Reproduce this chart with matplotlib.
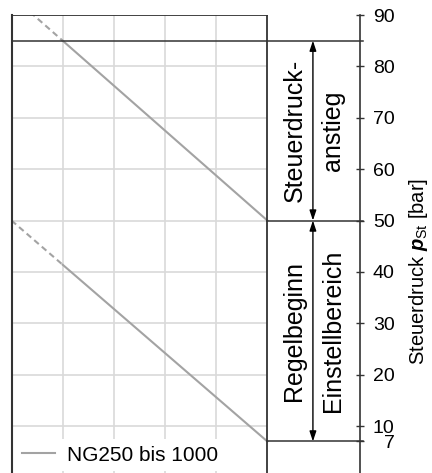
import matplotlib.pyplot as plt

plt.rcParams['font.family'] = ['Liberation Sans', 'DejaVu Sans']
plt.rcParams['mathtext.fontset'] = 'custom'
plt.rcParams['mathtext.rm'] = 'Liberation Sans'
plt.rcParams['mathtext.bf'] = 'Liberation Sans:bold:italic'

# Kennlinien (x ohne Beschriftung, y = Steuerdruck in bar)
x_dashed = [0, 1]
x_solid = [1, 5]
upper_dashed = [93.75, 85]
upper_solid = [85, 50]
lower_dashed = [50, 41.4]
lower_solid = [41.4, 7]

pressure_ticks = [7, 10, 20, 30, 40, 50, 60, 70, 80, 90]
grid_x = [1, 2, 3, 4]
grid_y = [10, 20, 30, 40, 50, 60, 70, 80]
box_right = 5
x_max = 6.81
p_top = 90
p_bottom = 0.86

# Bereiche: (Text links, Text rechts, obere Grenze, untere Grenze)
sections = [
    ("Steuerdruck-", "anstieg", 85, 50),
    ("Regelbeginn", "Einstellbereich", 50, 7),
]
label = "NG250 bis 1000"

line_col = '#a3a3a3'
grid_col = '#d9d9d9'
dark = '#333333'

fig = plt.figure(figsize=(4.32, 4.73), dpi=100)
ax = fig.add_axes([11.5 / 432, 0, (360 - 11.5) / 432, 1 - 15 / 473])
ax.set_xlim(0, x_max)
ax.set_ylim(p_bottom, p_top)

# Gitter im Diagrammkasten
ax.vlines(grid_x, p_bottom, p_top, color=grid_col, lw=1.2, zorder=1)
ax.hlines(grid_y, 0, box_right, color=grid_col, lw=1.2, zorder=1)

# Kasten: oben und rechts
ax.plot([0, box_right], [p_top, p_top], color=dark, lw=1.3, zorder=3)
ax.axvline(box_right, color=dark, lw=1.3, zorder=3)

# Grenzlinien
ax.plot([0, 6.87], [sections[0][2], sections[0][2]], color=dark, lw=1.1, clip_on=False, zorder=3)
for s in sections:
    ax.plot([box_right, 6.87], [s[3], s[3]], color=dark, lw=1.1, clip_on=False, zorder=3)

# Kennlinien
dash = (0, (2.9, 1.9))
ax.plot(x_dashed, upper_dashed, color=line_col, lw=1.5, ls=dash, zorder=2)
ax.plot(x_solid, upper_solid, color=line_col, lw=1.5, zorder=2, label=label)
ax.plot(x_dashed, lower_dashed, color=line_col, lw=1.5, ls=dash, zorder=2)
ax.plot(x_solid, lower_solid, color=line_col, lw=1.5, zorder=2)

# Pfeile und Texte
for t1, t2, top, bot in sections:
    mid = (top + bot) / 2
    ax.annotate('', xy=(5.89, bot), xytext=(5.89, top),
                arrowprops=dict(arrowstyle='<|-|>,head_length=0.6,head_width=0.2',
                                color='black', lw=1.0, shrinkA=0, shrinkB=0))
    ax.text(5.53, mid, t1, rotation=90, ha='center', va='center', fontsize=18)
    ax.text(6.29, mid, t2, rotation=90, ha='center', va='center', fontsize=18)

# Achse rechts
for side in ['top', 'bottom']:
    ax.spines[side].set_visible(False)
ax.spines['left'].set_color(dark)
ax.spines['left'].set_linewidth(1.5)
ax.spines['right'].set_color(dark)
ax.spines['right'].set_linewidth(1.2)
ax.set_xticks([])
ax.yaxis.tick_right()
ax.set_yticks(pressure_ticks)
ax.tick_params(axis='y', direction='inout', length=6, width=1, color=dark,
               labelsize=14, pad=22)
for tl in ax.get_yticklabels():
    tl.set_horizontalalignment('right')
ax.yaxis.set_label_position('right')
ax.set_ylabel(r'Steuerdruck $\mathbf{p}_{\mathrm{St}}$ [bar]', fontsize=14.5,
              rotation=90, ha='center', va='center')
ax.yaxis.set_label_coords(1.168, 0.44)

leg = ax.legend(loc='lower left', bbox_to_anchor=(0.005, 0.0), frameon=True,
                fontsize=15, handlelength=1.6, handletextpad=0.6,
                borderaxespad=0.1, borderpad=0.3)
leg.get_frame().set_edgecolor('none')
leg.get_frame().set_facecolor('white')
leg.get_frame().set_alpha(1)

fig.savefig('out.png', dpi=100)
